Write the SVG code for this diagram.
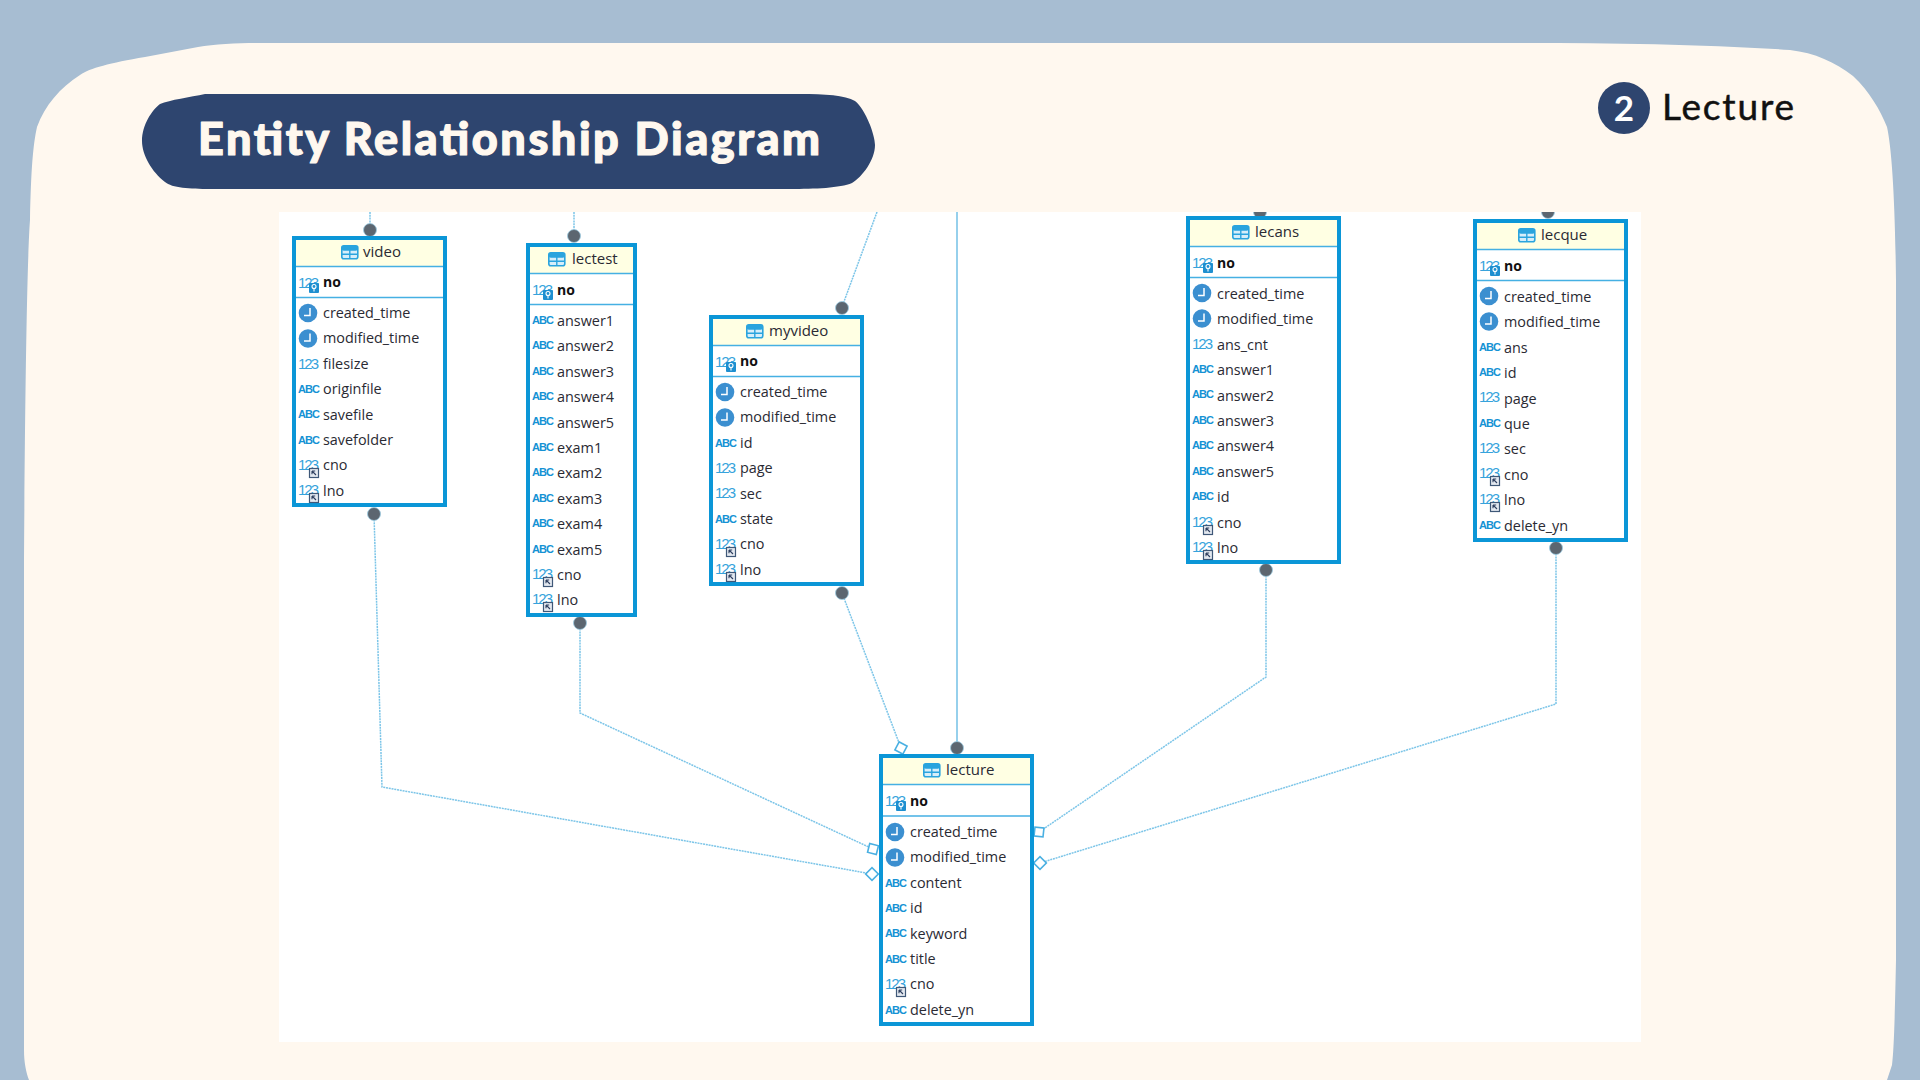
<svg xmlns="http://www.w3.org/2000/svg" xmlns:xlink="http://www.w3.org/1999/xlink" width="1920" height="1080" viewBox="0 0 1920 1080">
<style>
text{font-family:"Open Sans","Noto Sans","Liberation Sans",sans-serif}
.t{font-size:14.4px;fill:#2a2a33}
.b{font-size:14px;font-weight:700;fill:#111}
.h{font-size:15px;fill:#2a2a33}
.n{font-size:15px;fill:#36A3DC;font-family:"Liberation Sans",sans-serif}
.a{font-size:11px;font-weight:700;fill:#1592D4;font-family:"Liberation Sans",sans-serif;letter-spacing:-1px}
.box{fill:#fff;stroke:#0B96D7;stroke-width:4}
.head{fill:#FFFFE3}
.sep{stroke:#45B0E3;stroke-width:1.5}
.lnk{fill:none;stroke:#7CC5E8;stroke-width:1.5;stroke-dasharray:2 .8}
.solid{fill:none;stroke:#7CC5E8;stroke-width:1.6}
.dot{fill:#5C6670;stroke:#9CCBE2;stroke-width:.8}
.dia{fill:#fff;stroke:#4AB0E2;stroke-width:1.6}
#video .t,#myvideo .t,#lecture .t,#video .b,#myvideo .b,#lecture .b{transform:translateY(-1px)}
</style>
<defs>
<clipPath id="panel"><rect x="279" y="212" width="1362" height="830"/></clipPath>
<g id="tbl"><rect x=".8" y=".8" width="16" height="13" rx="2" fill="#D6EEFA" stroke="#2AA4DE" stroke-width="1.6"/><rect x=".8" y=".8" width="16" height="5" rx="2" fill="#2AA4DE"/><path d="M8.8 5v9M1 9.2h15.5" stroke="#2AA4DE" stroke-width="1.4"/></g>
<g id="clk"><circle r="9.3" fill="#3B8FD0"/><path d="M2 -5V2.5H-4" fill="none" stroke="#fff" stroke-width="1.5"/></g>
<g id="pk"><rect width="10" height="10" rx="1" fill="#1E8FD0"/><circle cx="5" cy="3.5" r="2" fill="none" stroke="#fff" stroke-width="1.1"/><path d="M5 5.5v3" stroke="#fff" stroke-width="1.1"/></g>
<g id="fk"><rect x=".5" y=".5" width="9" height="9" fill="#E4E9F0" stroke="#3F5878" stroke-width="1.2"/><path d="M3 3h3.2M3 3v3.2M3 3l4 4" fill="none" stroke="#2F4060" stroke-width="1.1"/></g>
</defs>

<rect id="background" width="1920" height="1080" fill="#A7BDD2"/>
<path id="sheet" fill="#FFF8EF" d="M260 43H1500C1600 43 1700 44 1790 50C1815 53 1835 62 1853 76C1870 92 1880 110 1887 127C1892 150 1895 200 1896 280V960C1895 1010 1894 1050 1892 1065L1887 1080H29C26 1072 24 1062 24 1050V560C25 400 27 260 30 220C31 170 33 145 37 127C45 105 60 88 80 75C90 68 110 63 145 57L198 47C215 44 240 43 260 43Z"/>

<g id="title">
<path fill="#2E456F" d="M205 94H800C825 94 845 95 855 101C866 110 875 135 875 145C875 160 862 177 852 183C840 188 815 189 790 189H210C190 189 172 188 165 182C152 172 142 155 142 141C142 125 152 110 160 104C170 100 190 97 205 94Z"/>
<text x="198" y="155" font-size="45" font-weight="900" fill="#FFF8EF" stroke="#FFF8EF" stroke-width="1.2" stroke-linejoin="round" textLength="622" style="font-family:Lato,'Open Sans',sans-serif">Entity Relationship Diagram</text>
</g>
<g id="section">
<circle cx="1624" cy="108" r="26" fill="#2E456F"/>
<text x="1624" y="121" font-size="35" font-weight="700" fill="#fff" text-anchor="middle" style="font-family:Lato,sans-serif">2</text>
<text x="1662" y="120" font-size="37" fill="#111" stroke="#111" stroke-width=".5" textLength="132" style="font-family:Lato,sans-serif">Lecture</text>
</g>

<rect id="erd-panel" x="279" y="212" width="1362" height="830" fill="#fff"/>

<g id="connectors" clip-path="url(#panel)">
<path class="lnk" d="M370 212V230M574 212V236M877 212L842 307"/>
<path class="solid" d="M957 212V748"/>
<path class="lnk" d="M374 514L382 787L872 874"/>
<path class="lnk" d="M580 623V713L873 849"/>
<path class="lnk" d="M842 593L901 748"/>
<path class="lnk" d="M1266 570V677L1039 832"/>
<path class="lnk" d="M1556 548V704L1040 863"/>
<circle class="dot" cx="370" cy="230" r="6.5"/><circle class="dot" cx="374" cy="514" r="6.5"/>
<circle class="dot" cx="574" cy="236" r="6.5"/><circle class="dot" cx="580" cy="623" r="6.5"/>
<circle class="dot" cx="842" cy="308" r="6.5"/><circle class="dot" cx="842" cy="593" r="6.5"/>
<circle class="dot" cx="1260" cy="212" r="6.5"/><circle class="dot" cx="1266" cy="570" r="6.5"/>
<circle class="dot" cx="1548" cy="212" r="6.5"/><circle class="dot" cx="1556" cy="548" r="6.5"/>
<circle class="dot" cx="957" cy="748" r="6.5"/>
<rect class="dia" x="-4.5" y="-4.5" width="9" height="9" transform="translate(901 748) rotate(28)"/>
<rect class="dia" x="-4.5" y="-4.5" width="9" height="9" transform="translate(873 849) rotate(14)"/>
<rect class="dia" x="-4.5" y="-4.5" width="9" height="9" transform="translate(872 874) rotate(45)"/>
<rect class="dia" x="-4.5" y="-4.5" width="9" height="9" transform="translate(1039 832) rotate(6)"/>
<rect class="dia" x="-4.5" y="-4.5" width="9" height="9" transform="translate(1040 863) rotate(45)"/>
</g>

<g id="video" transform="translate(292 236)">
<rect class="box" x="2" y="2" width="151" height="267"/><rect class="head" x="4" y="4" width="147" height="26"/>
<path class="sep" d="M4 30.5H151M4 61.5H151"/>
<use href="#tbl" x="49" y="9"/><text class="h" x="71" y="21">video</text>
<text class="n" x="6" y="52" textLength="21">123</text><use href="#pk" x="17" y="47"/><text class="b" x="31" y="52">no</text>
<use href="#clk" x="16" y="77"/><text class="t" x="31" y="83">created_time</text>
<use href="#clk" x="16" y="102.5"/><text class="t" x="31" y="108">modified_time</text>
<text class="n" x="6" y="133" textLength="21">123</text><text class="t" x="31" y="134">filesize</text>
<text class="a" x="6" y="157">ABC</text><text class="t" x="31" y="159">originfile</text>
<text class="a" x="6" y="182">ABC</text><text class="t" x="31" y="185">savefile</text>
<text class="a" x="6" y="208">ABC</text><text class="t" x="31" y="210">savefolder</text>
<text class="n" x="6" y="234" textLength="21">123</text><use href="#fk" x="17" y="232"/><text class="t" x="31" y="235">cno</text>
<text class="n" x="6" y="259" textLength="21">123</text><use href="#fk" x="17" y="257"/><text class="t" x="31" y="261">lno</text>
</g>

<g id="lectest" transform="translate(526 243)">
<rect class="box" x="2" y="2" width="107" height="370"/><rect class="head" x="4" y="4" width="103" height="26"/>
<path class="sep" d="M4 30.5H107M4 61.5H107"/>
<use href="#tbl" x="22" y="9"/><text class="h" x="46" y="21">lectest</text>
<text class="n" x="6" y="52" textLength="21">123</text><use href="#pk" x="17" y="47"/><text class="b" x="31" y="52">no</text>
<text class="a" x="6" y="81">ABC</text><text class="t" x="31" y="83">answer1</text>
<text class="a" x="6" y="106">ABC</text><text class="t" x="31" y="108">answer2</text>
<text class="a" x="6" y="132">ABC</text><text class="t" x="31" y="134">answer3</text>
<text class="a" x="6" y="157">ABC</text><text class="t" x="31" y="159">answer4</text>
<text class="a" x="6" y="182">ABC</text><text class="t" x="31" y="185">answer5</text>
<text class="a" x="6" y="208">ABC</text><text class="t" x="31" y="210">exam1</text>
<text class="a" x="6" y="233">ABC</text><text class="t" x="31" y="235">exam2</text>
<text class="a" x="6" y="259">ABC</text><text class="t" x="31" y="261">exam3</text>
<text class="a" x="6" y="284">ABC</text><text class="t" x="31" y="286">exam4</text>
<text class="a" x="6" y="310">ABC</text><text class="t" x="31" y="312">exam5</text>
<text class="n" x="6" y="336" textLength="21">123</text><use href="#fk" x="17" y="334"/><text class="t" x="31" y="337">cno</text>
<text class="n" x="6" y="361" textLength="21">123</text><use href="#fk" x="17" y="359"/><text class="t" x="31" y="362">lno</text>
</g>

<g id="myvideo" transform="translate(709 315)">
<rect class="box" x="2" y="2" width="151" height="267"/><rect class="head" x="4" y="4" width="147" height="26"/>
<path class="sep" d="M4 30.5H151M4 61.5H151"/>
<use href="#tbl" x="37" y="9"/><text class="h" x="60" y="21">myvideo</text>
<text class="n" x="6" y="52" textLength="21">123</text><use href="#pk" x="17" y="47"/><text class="b" x="31" y="52">no</text>
<use href="#clk" x="16" y="77"/><text class="t" x="31" y="83">created_time</text>
<use href="#clk" x="16" y="102.5"/><text class="t" x="31" y="108">modified_time</text>
<text class="a" x="6" y="132">ABC</text><text class="t" x="31" y="134">id</text>
<text class="n" x="6" y="158" textLength="21">123</text><text class="t" x="31" y="159">page</text>
<text class="n" x="6" y="183" textLength="21">123</text><text class="t" x="31" y="185">sec</text>
<text class="a" x="6" y="208">ABC</text><text class="t" x="31" y="210">state</text>
<text class="n" x="6" y="234" textLength="21">123</text><use href="#fk" x="17" y="232"/><text class="t" x="31" y="235">cno</text>
<text class="n" x="6" y="259" textLength="21">123</text><use href="#fk" x="17" y="257"/><text class="t" x="31" y="261">lno</text>
</g>

<g id="lecans" transform="translate(1186 216)">
<rect class="box" x="2" y="2" width="151" height="344"/><rect class="head" x="4" y="4" width="147" height="26"/>
<path class="sep" d="M4 30.5H151M4 61.5H151"/>
<use href="#tbl" x="46" y="9"/><text class="h" x="69" y="21">lecans</text>
<text class="n" x="6" y="52" textLength="21">123</text><use href="#pk" x="17" y="47"/><text class="b" x="31" y="52">no</text>
<use href="#clk" x="16" y="77"/><text class="t" x="31" y="83">created_time</text>
<use href="#clk" x="16" y="102.5"/><text class="t" x="31" y="108">modified_time</text>
<text class="n" x="6" y="133" textLength="21">123</text><text class="t" x="31" y="134">ans_cnt</text>
<text class="a" x="6" y="157">ABC</text><text class="t" x="31" y="159">answer1</text>
<text class="a" x="6" y="182">ABC</text><text class="t" x="31" y="185">answer2</text>
<text class="a" x="6" y="208">ABC</text><text class="t" x="31" y="210">answer3</text>
<text class="a" x="6" y="233">ABC</text><text class="t" x="31" y="235">answer4</text>
<text class="a" x="6" y="259">ABC</text><text class="t" x="31" y="261">answer5</text>
<text class="a" x="6" y="284">ABC</text><text class="t" x="31" y="286">id</text>
<text class="n" x="6" y="311" textLength="21">123</text><use href="#fk" x="17" y="309"/><text class="t" x="31" y="312">cno</text>
<text class="n" x="6" y="336" textLength="21">123</text><use href="#fk" x="17" y="334"/><text class="t" x="31" y="337">lno</text>
</g>

<g id="lecque" transform="translate(1473 219)">
<rect class="box" x="2" y="2" width="151" height="319"/><rect class="head" x="4" y="4" width="147" height="26"/>
<path class="sep" d="M4 30.5H151M4 61.5H151"/>
<use href="#tbl" x="45" y="9"/><text class="h" x="68" y="21">lecque</text>
<text class="n" x="6" y="52" textLength="21">123</text><use href="#pk" x="17" y="47"/><text class="b" x="31" y="52">no</text>
<use href="#clk" x="16" y="77"/><text class="t" x="31" y="83">created_time</text>
<use href="#clk" x="16" y="102.5"/><text class="t" x="31" y="108">modified_time</text>
<text class="a" x="6" y="132">ABC</text><text class="t" x="31" y="134">ans</text>
<text class="a" x="6" y="157">ABC</text><text class="t" x="31" y="159">id</text>
<text class="n" x="6" y="183" textLength="21">123</text><text class="t" x="31" y="185">page</text>
<text class="a" x="6" y="208">ABC</text><text class="t" x="31" y="210">que</text>
<text class="n" x="6" y="234" textLength="21">123</text><text class="t" x="31" y="235">sec</text>
<text class="n" x="6" y="259" textLength="21">123</text><use href="#fk" x="17" y="257"/><text class="t" x="31" y="261">cno</text>
<text class="n" x="6" y="285" textLength="21">123</text><use href="#fk" x="17" y="283"/><text class="t" x="31" y="286">lno</text>
<text class="a" x="6" y="310">ABC</text><text class="t" x="31" y="312">delete_yn</text>
</g>

<g id="lecture" transform="translate(879 754)">
<rect class="box" x="2" y="2" width="151" height="268"/><rect class="head" x="4" y="4" width="147" height="26"/>
<path class="sep" d="M4 30.5H151M4 62H151"/>
<use href="#tbl" x="44" y="9"/><text class="h" x="67" y="21">lecture</text>
<text class="n" x="6" y="52" textLength="21">123</text><use href="#pk" x="17" y="47"/><text class="b" x="31" y="53">no</text>
<use href="#clk" x="16" y="78"/><text class="t" x="31" y="84">created_time</text>
<use href="#clk" x="16" y="103.5"/><text class="t" x="31" y="109">modified_time</text>
<text class="a" x="6" y="133">ABC</text><text class="t" x="31" y="135">content</text>
<text class="a" x="6" y="158">ABC</text><text class="t" x="31" y="160">id</text>
<text class="a" x="6" y="183">ABC</text><text class="t" x="31" y="186">keyword</text>
<text class="a" x="6" y="209">ABC</text><text class="t" x="31" y="211">title</text>
<text class="n" x="6" y="235" textLength="21">123</text><use href="#fk" x="17" y="233"/><text class="t" x="31" y="236">cno</text>
<text class="a" x="6" y="260">ABC</text><text class="t" x="31" y="262">delete_yn</text>
</g>
</svg>
